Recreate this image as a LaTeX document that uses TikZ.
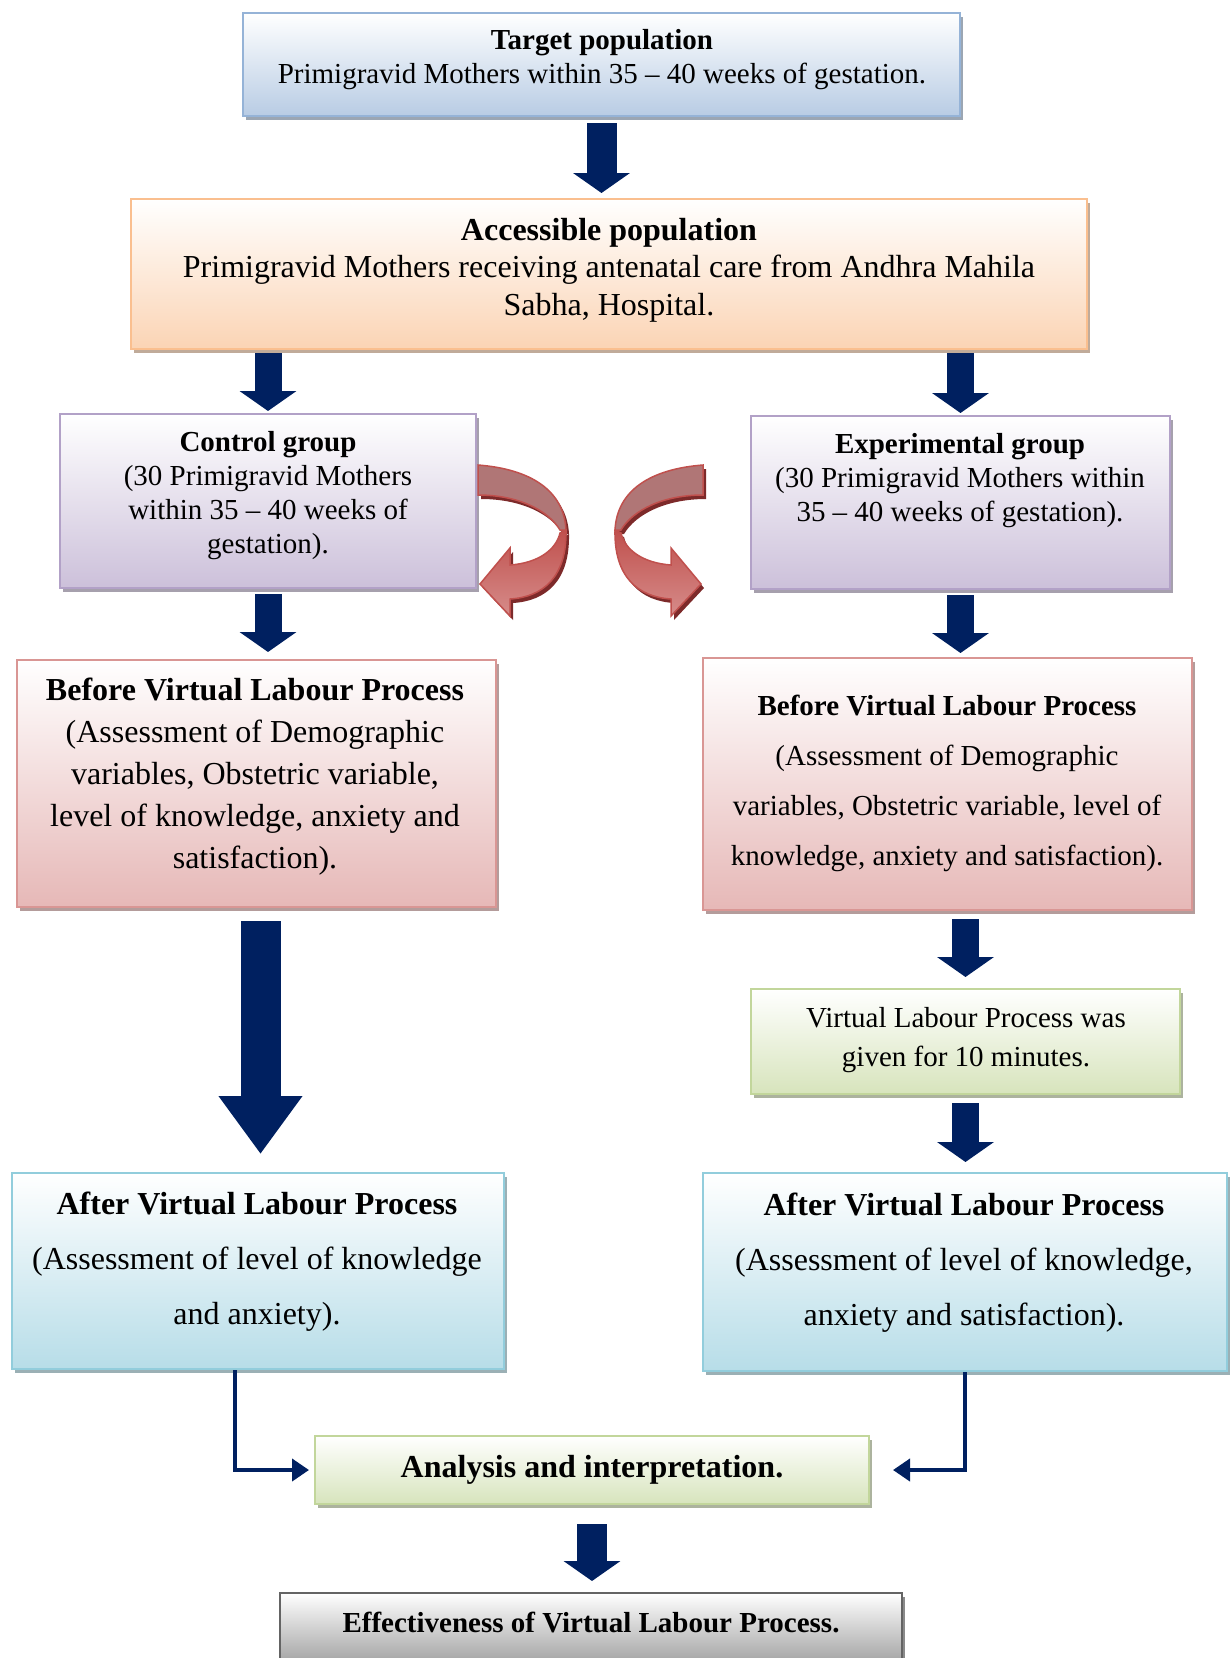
\documentclass[tikz,border=0pt]{standalone}
\usepackage{fontspec}
\setmainfont{Liberation Serif}
\usetikzlibrary{arrows.meta,shadows}

\definecolor{navy}{RGB}{0,32,96}
\definecolor{tgtline}{RGB}{149,179,215}
\definecolor{tgtfill}{RGB}{184,204,228}
\definecolor{accline}{RGB}{250,191,143}
\definecolor{accfill}{RGB}{251,212,180}
\definecolor{grpline}{RGB}{178,161,199}
\definecolor{grpfill}{RGB}{204,192,218}
\definecolor{befline}{RGB}{217,150,148}
\definecolor{beffill}{RGB}{230,184,183}
\definecolor{grnline}{RGB}{194,214,155}
\definecolor{grnfill}{RGB}{215,228,188}
\definecolor{aftline}{RGB}{146,205,220}
\definecolor{aftfill}{RGB}{183,221,232}
\definecolor{effline}{RGB}{100,100,100}
\definecolor{efffill}{RGB}{150,150,150}
\definecolor{ribbonedge}{RGB}{192,80,77}
\definecolor{ribbonup}{RGB}{176,118,118}
\definecolor{ribbonlow}{RGB}{214,140,138}
\definecolor{ribbonshade}{RGB}{125,42,42}

\tikzset{
  box/.style 2 args={draw=#1, line width=2pt, top color=white, bottom color=#2,
    drop shadow={shadow xshift=3pt, shadow yshift=-4pt, fill=#1!60!black, opacity=0.6}},
  txt/.style={align=center, inner sep=0pt},
  navyarrow/.style={draw=navy, line width=27pt, -{Triangle[width=56pt,length=20pt]},
    shorten <=5pt, shorten >=5pt},
  bigarrow/.style={navyarrow, line width=40pt, -{Triangle[width=80pt,length=58pt]}},
  thinarrow/.style={draw=navy, line width=4pt, -{Triangle[width=22pt,length=17pt]}}
}

% twisted ribbon arrow, origin at the top corner of its tail
\newcommand\ribbonarrow[1]{%
  \fill[ribbonshade, shift={(#1,4)}] (88,65) .. controls (89,112) and (65,132) .. (32,134)
    -- (32,151) -- (2,119) -- (32,83) -- (32,100) .. controls (60,98) and (78,85) .. (82,68) -- cycle;
  \fill[ribbonshade, shift={(#1,4)}] (0,0) .. controls (52,4) and (86,25) .. (88,65)
    -- (82,65) .. controls (70,45) and (40,30) .. (0,30) -- cycle;
  \shade[top color=ribbonedge, bottom color=ribbonlow, draw=ribbonedge, line width=1.5pt]
    (88,65) .. controls (89,112) and (65,132) .. (32,134)
    -- (32,151) -- (2,119) -- (32,83) -- (32,100) .. controls (60,98) and (78,85) .. (82,68) -- cycle;
  \filldraw[fill=ribbonup, draw=ribbonedge, line width=1.5pt]
    (0,0) .. controls (52,4) and (86,25) .. (88,65)
    -- (82,65) .. controls (70,45) and (40,30) .. (0,30) -- cycle;
}

\begin{document}
\begin{tikzpicture}[x=1pt,y=-1pt]
\useasboundingbox (0,0) rectangle (1230,1658);

% boxes
\node[box={tgtline}{tgtfill}, minimum width=717pt, minimum height=103pt] (target) at (601.5,64.5) {};
\node[box={accline}{accfill}, minimum width=956pt, minimum height=150pt] (access) at (609,274) {};
\node[box={grpline}{grpfill}, minimum width=416pt, minimum height=174pt] (ctl) at (268,501) {};
\node[box={grpline}{grpfill}, minimum width=419pt, minimum height=173pt] (exp) at (960.5,502.5) {};
\node[box={befline}{beffill}, minimum width=479pt, minimum height=247pt] (befL) at (256.5,783.5) {};
\node[box={befline}{beffill}, minimum width=489pt, minimum height=252pt] (befR) at (947.5,784) {};
\node[box={grnline}{grnfill}, minimum width=429pt, minimum height=105pt] (virt) at (965.5,1041.5) {};
\node[box={aftline}{aftfill}, minimum width=492pt, minimum height=196pt] (aftL) at (258,1271) {};
\node[box={aftline}{aftfill}, minimum width=524pt, minimum height=198pt] (aftR) at (965,1272) {};
\node[box={grnline}{grnfill}, minimum width=554pt, minimum height=68pt] (anal) at (592,1470) {};
\node[box={effline}{efffill}, minimum width=622pt, minimum height=80pt] (eff) at (591,1633) {};

% texts
\node[txt, font=\fontsize{29}{34}\selectfont] (targettxt) at (602,60)
  {\textbf{Target population}\\Primigravid Mothers within 35 -- 40 weeks of gestation.};
\node[txt, font=\fontsize{32}{37.5}\selectfont] (accesstxt) at (609,270)
  {\textbf{Accessible population}\\Primigravid Mothers receiving antenatal care from Andhra Mahila\\Sabha, Hospital.};
\node[txt, font=\fontsize{29}{34}\selectfont] (ctltxt) at (268,496)
  {\textbf{Control group}\\(30 Primigravid Mothers\\within 35 -- 40 weeks of\\gestation).};
\node[txt, font=\fontsize{29}{34}\selectfont] (exptxt) at (960,481)
  {\textbf{Experimental group}\\(30 Primigravid Mothers within\\35 -- 40 weeks of gestation).};
\node[txt, font=\fontsize{32}{42}\selectfont] (befLtxt) at (255,777)
  {\textbf{Before Virtual Labour Process}\\(Assessment of Demographic\\variables, Obstetric variable,\\level of knowledge, anxiety and\\satisfaction).};
\node[txt, font=\fontsize{29}{50}\selectfont] (befRtxt) at (947,783)
  {\textbf{Before Virtual Labour Process}\\(Assessment of Demographic\\variables, Obstetric variable, level of\\knowledge, anxiety and satisfaction).};
\node[txt, font=\fontsize{29}{39}\selectfont] (virttxt) at (966,1040)
  {Virtual Labour Process was\\given for 10 minutes.};
\node[txt, font=\fontsize{32}{55}\selectfont] (aftLtxt) at (257,1262)
  {\textbf{After Virtual Labour Process}\\(Assessment of level of knowledge\\and anxiety).};
\node[txt, font=\fontsize{32}{55}\selectfont] (aftRtxt) at (964,1263)
  {\textbf{After Virtual Labour Process}\\(Assessment of level of knowledge,\\anxiety and satisfaction).};
\node[txt, font=\fontsize{32}{38}\selectfont] (analtxt) at (592,1470)
  {\textbf{Analysis and interpretation.}};
\node[txt, font=\fontsize{29}{34}\selectfont] (efftxt) at (591,1622)
  {\textbf{Effectiveness of Virtual Labour Process.}};

% block arrows
\draw[navyarrow, line width=30pt, shorten <=6pt] (target.south) -- (target.south |- access.north);
\draw[navyarrow, shorten <=3pt, shorten >=2pt] (ctl.north |- access.south) -- (ctl.north);
\draw[navyarrow, shorten <=3pt, shorten >=2pt] (exp.north |- access.south) -- (exp.north);
\draw[navyarrow, shorten >=7pt] (ctl.south) -- (ctl.south |- befL.north);
\draw[navyarrow, shorten >=4pt] (exp.south) -- (exp.south |- befR.north);
\draw[bigarrow, shorten <=13pt, shorten >=18pt] ([xshift=4pt]befL.south) -- ([xshift=4pt]befL.south |- aftL.north);
\draw[navyarrow, shorten <=8pt, shorten >=11pt] (virt.north |- befR.south) -- (virt.north);
\draw[navyarrow, shorten <=8pt, shorten >=10pt] (virt.south) -- (virt.south |- aftR.north);
\draw[navyarrow, line width=30pt, shorten <=19pt, shorten >=11pt] (anal.south) -- (anal.south |- eff.north);

% elbow connectors
\draw[thinarrow] ([xshift=-23pt]aftL.south) |- ([xshift=-5pt]anal.west);
\draw[thinarrow] (aftR.south) |- ([xshift=23pt]anal.east);

% twisted arrows between the groups
\scope[shift={(478,465)}]
\ribbonarrow{3}
\endscope
\scope[shift={(703,465)}, xscale=-1]
\ribbonarrow{-3}
\endscope
\end{tikzpicture}
\end{document}
